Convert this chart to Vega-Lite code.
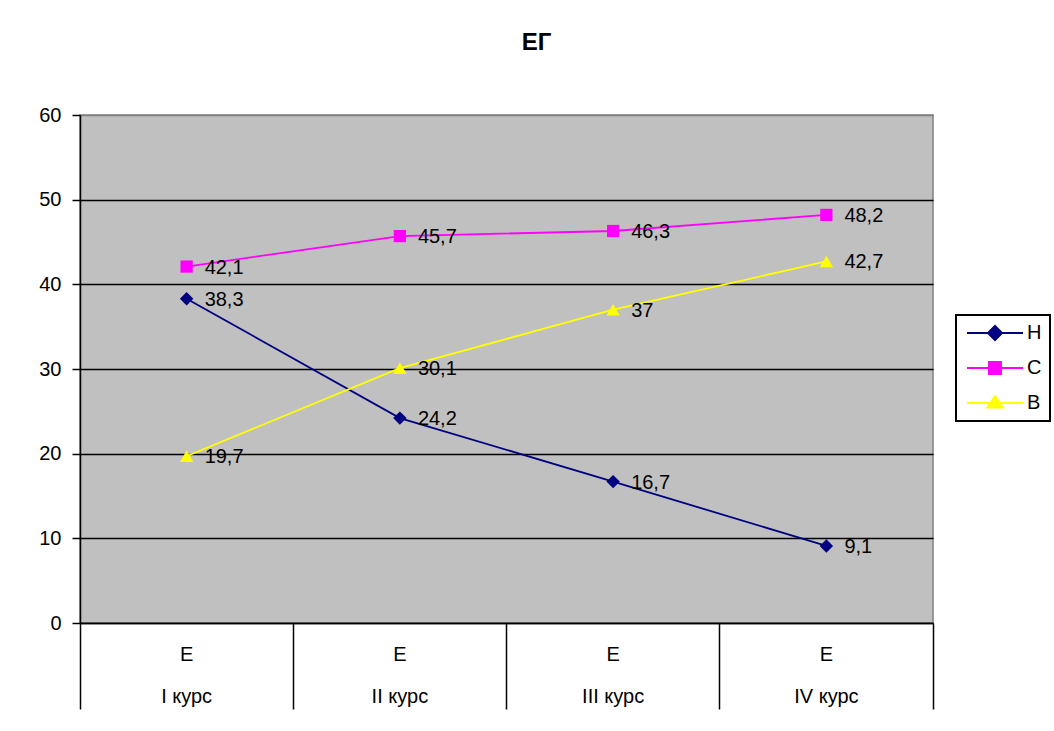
{
  "$schema": "https://vega.github.io/schema/vega-lite/v6.json",
  "width": 853,
  "height": 508,
  "autosize": {"type": "none"},
  "padding": {"left": 80, "top": 115, "right": 121, "bottom": 108},
  "background": "white",
  "title": {"text": "ЕГ", "anchor": "middle", "frame": "group", "dx": 30, "offset": 31, "font": "Liberation Sans", "fontSize": 24, "fontWeight": "bold", "color": "black", "baseline": "alphabetic"},
  "config": {
    "locale": {"number": {"decimal": ",", "thousands": " ", "grouping": [3], "currency": ["", ""]}},
    "view": {"fill": "#C0C0C0", "stroke": "#808080", "strokeWidth": 1.5},
    "font": "Liberation Sans",
    "legend": {"strokeWidth": 2}
  },
  "data": {
    "values": [
      {"course": "I курс", "series": "Н", "value": 38.3},
      {"course": "II курс", "series": "Н", "value": 24.2},
      {"course": "III курс", "series": "Н", "value": 16.7},
      {"course": "IV курс", "series": "Н", "value": 9.1},
      {"course": "I курс", "series": "С", "value": 42.1},
      {"course": "II курс", "series": "С", "value": 45.7},
      {"course": "III курс", "series": "С", "value": 46.3},
      {"course": "IV курс", "series": "С", "value": 48.2},
      {"course": "I курс", "series": "В", "value": 19.7},
      {"course": "II курс", "series": "В", "value": 30.1},
      {"course": "III курс", "series": "В", "value": 37},
      {"course": "IV курс", "series": "В", "value": 42.7}
    ]
  },
  "encoding": {
    "x": {
      "field": "course", "type": "nominal",
      "sort": ["I курс", "II курс", "III курс", "IV курс"],
      "scale": {"type": "band", "paddingInner": 0, "paddingOuter": 0},
      "axis": {
        "title": null, "grid": false, "labelAngle": 0,
        "domainColor": "black", "domainWidth": 1.5,
        "tickColor": "black", "tickWidth": 1.5, "tickSize": 86,
        "bandPosition": 1, "tickExtra": true,
        "labelExpr": "datum.label ? ['Е', datum.label] : ''",
        "labelFont": "Liberation Sans", "labelFontSize": 20, "labelColor": "black",
        "labelPadding": -65, "labelLineHeight": 42, "labelBaseline": "top"
      }
    },
    "y": {
      "field": "value", "type": "quantitative",
      "scale": {"domain": [0, 60], "nice": false, "zero": true},
      "axis": {
        "title": null, "values": [0, 10, 20, 30, 40, 50, 60],
        "domainColor": "black", "domainWidth": 1.5,
        "tickColor": "black", "tickWidth": 1.5, "tickSize": 8,
        "labelPadding": 11, "labelFont": "Liberation Sans", "labelFontSize": 20, "labelColor": "black",
        "grid": true, "gridWidth": 1.3,
        "gridColor": {"condition": {"test": "datum.value == 60", "value": "#808080"}, "value": "black"}
      }
    }
  },
  "layer": [
    {
      "mark": {"type": "point", "filled": true, "opacity": 0, "size": 196},
      "encoding": {
        "color": {
          "field": "series", "type": "nominal",
          "scale": {"domain": ["Н", "С", "В"], "range": ["#000080", "#FF00FF", "#FFFF00"]},
          "legend": {
            "title": null, "orient": "none", "legendX": 876, "legendY": 200, "padding": 8,
            "strokeColor": "black", "fillColor": "white", "symbolSize": 196, "symbolStrokeWidth": 2,
            "symbolOpacity": 1,
            "labelFont": "Liberation Sans", "labelFontSize": 20, "labelColor": "black",
            "labelOffset": 43, "rowPadding": 14
          }
        },
        "shape": {
          "field": "series", "type": "nominal",
          "scale": {"domain": ["Н", "С", "В"], "range": [
            "M-1,0L7,0M3,-1L4,0L3,1L2,0Z",
            "M-1,0L7,0M2.15,-0.85L3.85,-0.85L3.85,0.85L2.15,0.85Z",
            "M-1,0L7,0M3,-1L4.1,0.65L1.9,0.65Z"
          ]},
          "legend": {
            "title": null, "orient": "none", "legendX": 876, "legendY": 200, "padding": 8,
            "strokeColor": "black", "fillColor": "white", "symbolSize": 196, "symbolStrokeWidth": 2,
            "symbolOpacity": 1,
            "labelFont": "Liberation Sans", "labelFontSize": 20, "labelColor": "black",
            "labelOffset": 43, "rowPadding": 14
          }
        }
      }
    },
    {
      "mark": {"type": "line", "strokeWidth": 1.8},
      "encoding": {
        "stroke": {"field": "series", "type": "nominal", "scale": {"domain": ["Н", "С", "В"], "range": ["#000080", "#FF00FF", "#FFFF00"]}, "legend": null}
      }
    },
    {
      "transform": [{"filter": "datum.series == 'Н'"}],
      "mark": {"type": "point", "shape": "diamond", "filled": true, "color": "#000080", "size": 180, "opacity": 1}
    },
    {
      "transform": [{"filter": "datum.series == 'С'"}],
      "mark": {"type": "point", "shape": "square", "filled": true, "color": "#FF00FF", "size": 150, "opacity": 1}
    },
    {
      "transform": [{"filter": "datum.series == 'В'"}],
      "mark": {"type": "point", "shape": "triangle-up", "filled": true, "color": "#FFFF00", "size": 180, "opacity": 1}
    },
    {
      "mark": {"type": "text", "align": "left", "baseline": "middle", "dx": 18, "dy": 1, "font": "Liberation Sans", "fontSize": 20, "color": "black"},
      "encoding": {"text": {"field": "value", "type": "quantitative", "format": "~g"}}
    }
  ]
}
